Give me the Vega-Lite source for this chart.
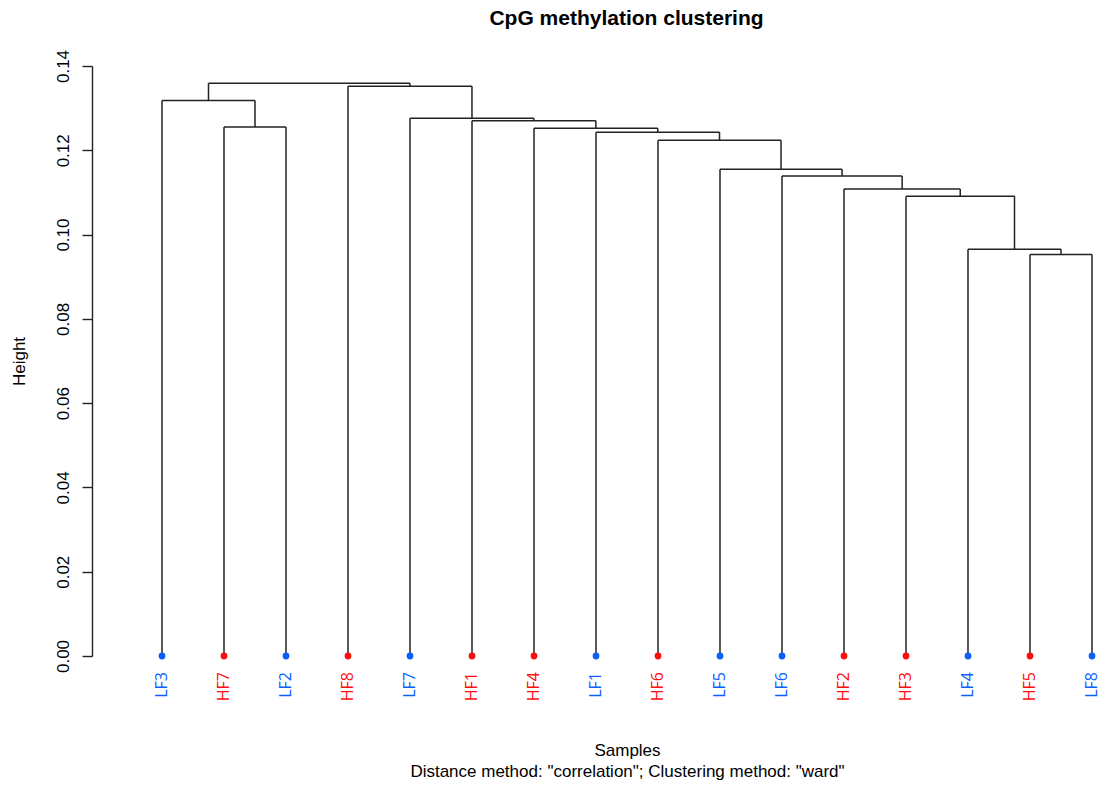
{
  "$schema": "https://vega.github.io/schema/vega-lite/v6.json",
  "width": 1013,
  "height": 590,
  "autosize": {"type": "none"},
  "padding": {"left": 92, "top": 66, "right": 0, "bottom": 129},
  "background": "white",
  "title": {
    "text": "CpG methylation clustering",
    "font": "Liberation Sans",
    "fontSize": 21,
    "fontWeight": "bold",
    "color": "black",
    "anchor": "middle",
    "frame": "group",
    "dx": 28,
    "offset": 20
  },
  "config": {
    "view": {"stroke": null},
    "axisX": {
      "labels": false, "ticks": false, "domain": false, "grid": false,
      "titleFont": "Liberation Sans",
      "titleFontSize": 17,
      "titleFontWeight": "normal",
      "titleColor": "black",
      "titleLineHeight": 21,
      "titleX": 535,
      "titleAlign": "center",
      "titlePadding": 86
    },
    "axisY": {
      "titleFont": "Liberation Sans",
      "titleFontSize": 17,
      "titleFontWeight": "normal",
      "titleColor": "black",
      "titlePadding": 26,
      "labelFont": "Liberation Sans",
      "labelFontSize": 17,
      "labelColor": "black",
      "labelAngle": 270,
      "labelAlign": "center",
      "labelBaseline": "bottom",
      "labelPadding": 10,
      "tickSize": 10,
      "tickColor": "#222",
      "domainColor": "#222",
      "tickWidth": 1.4,
      "domainWidth": 1.4,
      "grid": false
    }
  },
  "datasets": {
    "merges": [
      {"left": 15, "right": 16, "hl": 0, "hr": 0, "h": 0.0953},
      {"left": 14, "right": 15.5, "hl": 0, "hr": 0.0953, "h": 0.0965},
      {"left": 13, "right": 14.75, "hl": 0, "hr": 0.0965, "h": 0.1091},
      {"left": 12, "right": 13.875, "hl": 0, "hr": 0.1091, "h": 0.1108},
      {"left": 11, "right": 12.9375, "hl": 0, "hr": 0.1108, "h": 0.1139},
      {"left": 10, "right": 11.96875, "hl": 0, "hr": 0.1139, "h": 0.1155},
      {"left": 9, "right": 10.984375, "hl": 0, "hr": 0.1155, "h": 0.1224},
      {"left": 8, "right": 9.9921875, "hl": 0, "hr": 0.1224, "h": 0.1243},
      {"left": 7, "right": 8.99609375, "hl": 0, "hr": 0.1243, "h": 0.1252},
      {"left": 6, "right": 7.998046875, "hl": 0, "hr": 0.1252, "h": 0.127},
      {"left": 5, "right": 6.9990234375, "hl": 0, "hr": 0.127, "h": 0.1276},
      {"left": 4, "right": 5.99951171875, "hl": 0, "hr": 0.1276, "h": 0.1352},
      {"left": 2, "right": 3, "hl": 0, "hr": 0, "h": 0.1255},
      {"left": 1, "right": 2.5, "hl": 0, "hr": 0.1255, "h": 0.1318},
      {"left": 1.75, "right": 4.999755859375, "hl": 0.1318, "hr": 0.1352, "h": 0.1359}
    ],
    "leaves": [
      {"sample": "LF3", "order": 1, "group": "LF"},
      {"sample": "HF7", "order": 2, "group": "HF"},
      {"sample": "LF2", "order": 3, "group": "LF"},
      {"sample": "HF8", "order": 4, "group": "HF"},
      {"sample": "LF7", "order": 5, "group": "LF"},
      {"sample": "HF1", "order": 6, "group": "HF"},
      {"sample": "HF4", "order": 7, "group": "HF"},
      {"sample": "LF1", "order": 8, "group": "LF"},
      {"sample": "HF6", "order": 9, "group": "HF"},
      {"sample": "LF5", "order": 10, "group": "LF"},
      {"sample": "LF6", "order": 11, "group": "LF"},
      {"sample": "HF2", "order": 12, "group": "HF"},
      {"sample": "HF3", "order": 13, "group": "HF"},
      {"sample": "LF4", "order": 14, "group": "LF"},
      {"sample": "HF5", "order": 15, "group": "HF"},
      {"sample": "LF8", "order": 16, "group": "LF"}
    ]
  },
  "layer": [
    {
      "data": {"name": "merges"},
      "mark": {"type": "rule", "color": "#222", "strokeWidth": 1.5},
      "encoding": {
        "x": {
          "field": "left", "type": "quantitative",
          "scale": {"domain": [-0.129, 16.2097], "nice": false, "zero": false},
          "title": ["Samples", "Distance method: \"correlation\"; Clustering method: \"ward\""]
        },
        "x2": {"field": "right"},
        "y": {
          "field": "h", "type": "quantitative",
          "scale": {"domain": [0, 0.14], "nice": false, "zero": true},
          "title": "Height",
          "axis": {"values": [0, 0.02, 0.04, 0.06, 0.08, 0.1, 0.12, 0.14], "format": ".2f"}
        }
      }
    },
    {
      "data": {"name": "merges"},
      "mark": {"type": "rule", "color": "#222", "strokeWidth": 1.5},
      "encoding": {
        "x": {"field": "left", "type": "quantitative", "title": ["Samples", "Distance method: \"correlation\"; Clustering method: \"ward\""]},
        "y": {"field": "hl", "type": "quantitative", "title": "Height"},
        "y2": {"field": "h"}
      }
    },
    {
      "data": {"name": "merges"},
      "mark": {"type": "rule", "color": "#222", "strokeWidth": 1.5},
      "encoding": {
        "x": {"field": "right", "type": "quantitative", "title": ["Samples", "Distance method: \"correlation\"; Clustering method: \"ward\""]},
        "y": {"field": "hr", "type": "quantitative", "title": "Height"},
        "y2": {"field": "h"}
      }
    },
    {
      "data": {"name": "leaves"},
      "mark": {"type": "circle", "size": 46, "opacity": 1},
      "encoding": {
        "x": {"field": "order", "type": "quantitative", "title": ["Samples", "Distance method: \"correlation\"; Clustering method: \"ward\""]},
        "y": {"datum": 0, "type": "quantitative", "title": "Height"},
        "color": {
          "field": "group", "type": "nominal", "legend": null,
          "scale": {"domain": ["HF", "LF"], "range": ["#ff0d0d", "#0b5fff"]}
        }
      }
    },
    {
      "data": {"name": "leaves"},
      "mark": {
        "type": "text", "angle": 270, "align": "right", "baseline": "middle",
        "yOffset": 16, "font": "Open Sans", "fontSize": 16
      },
      "encoding": {
        "x": {"field": "order", "type": "quantitative", "title": ["Samples", "Distance method: \"correlation\"; Clustering method: \"ward\""]},
        "y": {"datum": 0, "type": "quantitative", "title": "Height"},
        "text": {"field": "sample"},
        "color": {
          "field": "group", "type": "nominal", "legend": null,
          "scale": {"domain": ["HF", "LF"], "range": ["#ff1f1f", "#1a66ff"]}
        }
      }
    }
  ]
}
